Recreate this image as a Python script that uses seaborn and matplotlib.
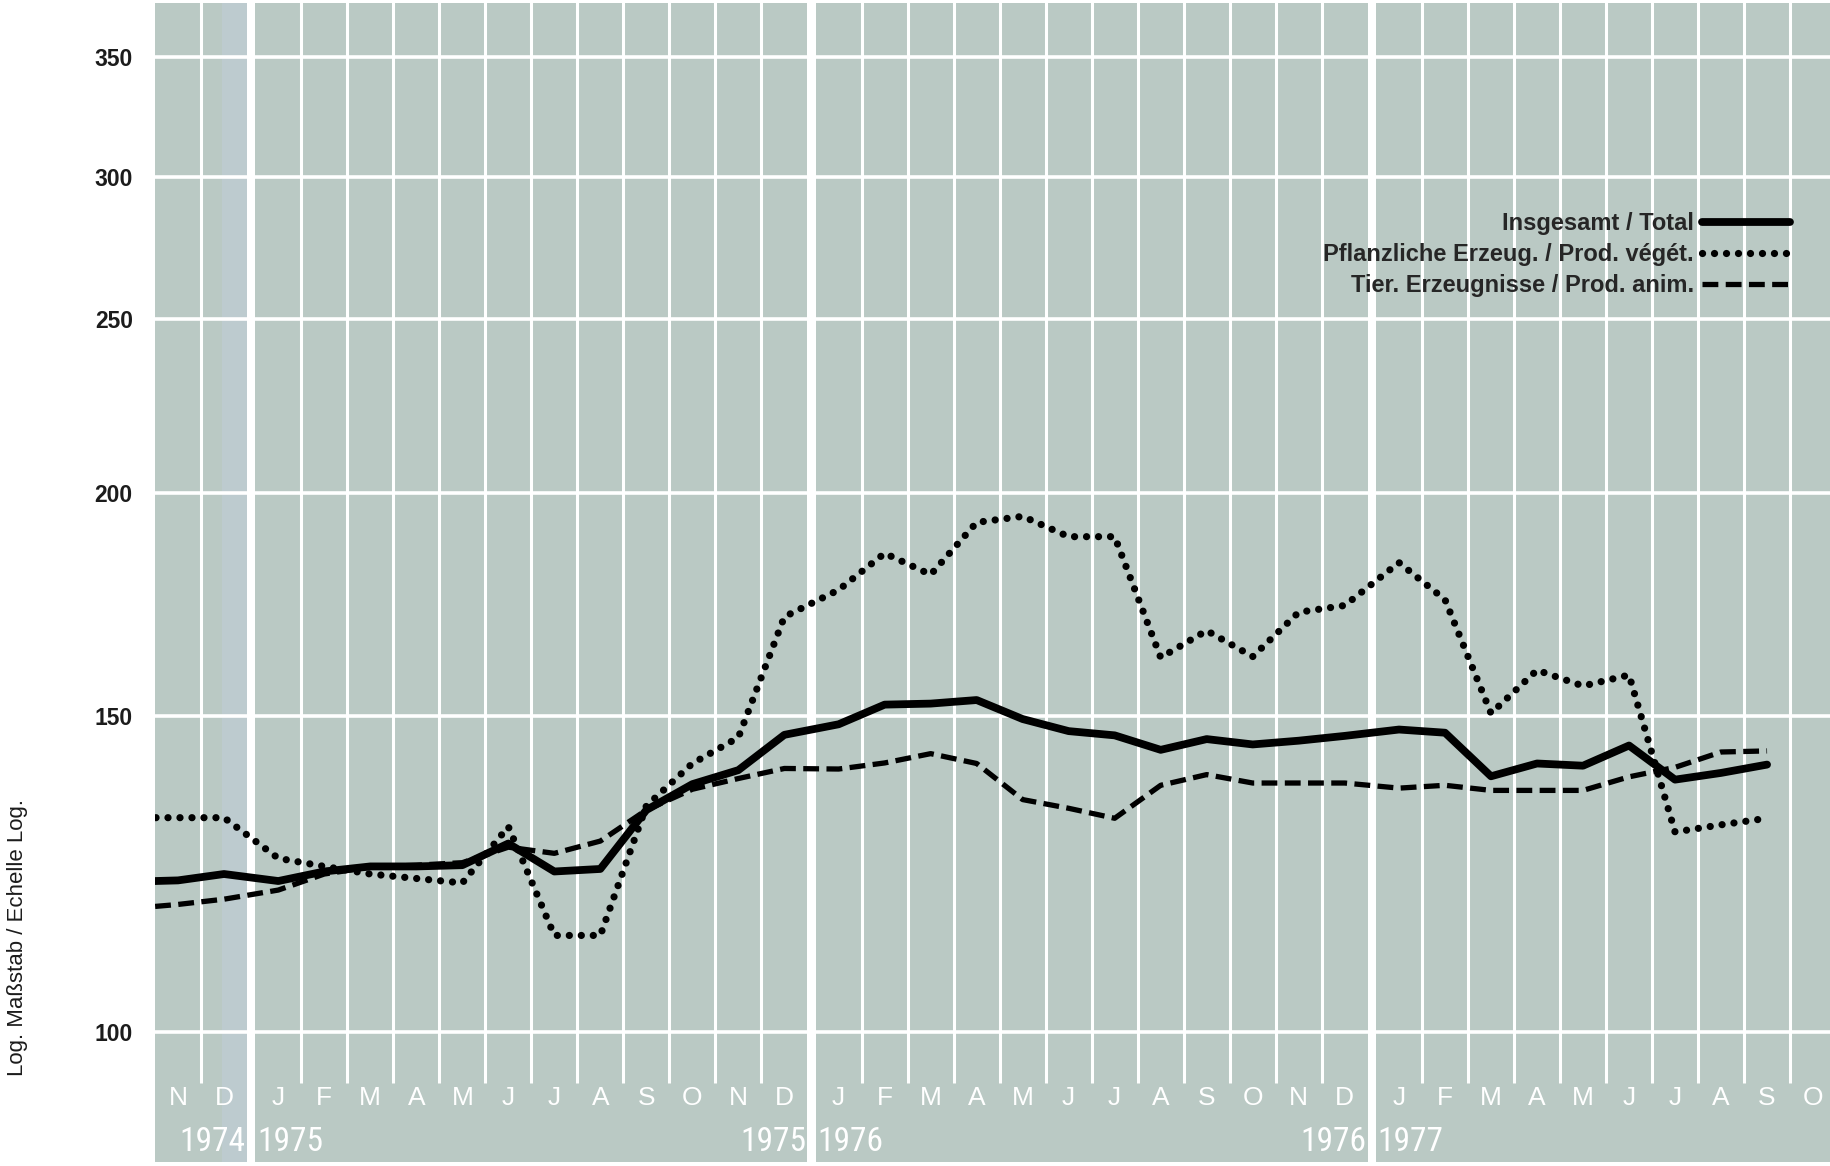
import numpy as np
import pandas as pd
import matplotlib
matplotlib.use("Agg")
import matplotlib.pyplot as plt
import matplotlib.transforms as mtransforms
from matplotlib.ticker import NullLocator
import seaborn as sns

# ----------------------------------------------------------------------
# Data: monthly index values, Oct 1974 .. Sep 1977 (log scale)
# ----------------------------------------------------------------------
data_year = [1974] * 3 + [1975] * 12 + [1976] * 12 + [1977] * 9
data_month = [10, 11, 12] + list(range(1, 13)) * 2 + list(range(1, 10))

total = [121.3, 121.5, 122.5,
         121.4, 122.9, 123.7, 123.7, 123.9, 127.4, 122.9, 123.3, 133.0, 137.5, 140.0, 146.5,
         148.5, 152.3, 152.5, 153.2, 149.5, 147.2, 146.4, 143.7, 145.7, 144.7, 145.4, 146.3,
         147.5, 146.9, 138.9, 141.2, 140.8, 144.5, 138.3, 139.5, 141.0]
plant = [131.7, 131.7, 131.7,
         125.0, 123.7, 122.5, 121.8, 121.1, 130.2, 113.2, 113.2, 133.7, 141.2, 146.0, 170.5,
         176.5, 185.0, 180.0, 192.5, 194.0, 189.0, 189.0, 161.8, 167.5, 162.0, 171.5, 173.0,
         182.8, 174.3, 150.6, 159.2, 156.0, 158.2, 129.3, 130.5, 131.6]
animal = [117.2, 117.8, 118.6,
          120.0, 122.5, 123.6, 123.9, 124.3, 126.8, 125.8, 127.8, 133.0, 136.6, 138.5, 140.3,
          140.2, 141.3, 143.0, 141.2, 134.8, 133.3, 131.6, 137.3, 139.2, 137.7, 137.7, 137.7,
          136.8, 137.3, 136.4, 136.4, 136.4, 138.8, 140.5, 143.3, 143.5]

# axis columns Nov 1974 .. Oct 1977
axis_year = [1974] * 2 + [1975] * 12 + [1976] * 12 + [1977] * 10
axis_month = [11, 12] + list(range(1, 13)) * 2 + list(range(1, 11))
month_letters = ["J", "F", "M", "A", "M", "J", "J", "A", "S", "O", "N", "D"]

yticks = [100, 150, 200, 250, 300, 350]

label_total = "Insgesamt / Total"
label_plant = "Pflanzliche Erzeug. / Prod. végét."
label_animal = "Tier. Erzeugnisse / Prod. anim."
ylabel = "Log. Maßstab / Echelle Log."

GAP = 0.18  # white band between years, in months


def xpos(year, month):
    i = (year - 1974) * 12 + month - 11
    return i + GAP * (year - 1974)


df = pd.DataFrame({"year": data_year, "month": data_month,
                   "total": total, "plant": plant, "animal": animal})
df["x"] = [xpos(y, m) for y, m in zip(df["year"], df["month"])]

cols = pd.DataFrame({"year": axis_year, "month": axis_month})
cols["x"] = [xpos(y, m) for y, m in zip(cols["year"], cols["month"])]

# ----------------------------------------------------------------------
# Figure
# ----------------------------------------------------------------------
sns.set_style("white")
plt.rcParams["font.family"] = ["Liberation Sans", "DejaVu Sans"]

BG = "#bac9c4"
fig = plt.figure(figsize=(18.31, 11.66), dpi=100)
ax = fig.add_axes([155 / 1831, 4 / 1166, 1676 / 1831, 1159 / 1166])
ax.set_facecolor(BG)
ax.set_yscale("log")
ax.set_ylim(84.6, 375.3)
ax.set_xlim(cols["x"].iloc[0] - 0.5, cols["x"].iloc[-1] + 0.39)
for s in ax.spines.values():
    s.set_visible(False)

# faint bluish print tint in the December 1974 column
xd = cols["x"].iloc[1]
ax.axvspan(xd - 0.05, xd + 0.5, color="#bdcbcf", lw=0, zorder=0.5)

# grid: month separators, year bands, value lines
inner, bands = [], []
for (x0, y0), (x1, y1) in zip(cols[["x", "year"]].values[:-1], cols[["x", "year"]].values[1:]):
    if y0 == y1:
        inner.append(x0 + 0.5)
    else:
        bands.append((x0 + 0.5, x1 - 0.5))
inner.append(cols["x"].iloc[-1] + 0.5)
ax.vlines(inner, 93.6, 400, color="white", lw=2.2, zorder=1)
for a, b in bands:
    ax.axvspan(a, b, color="white", lw=0, zorder=1)
for v in yticks:
    ax.axhline(v, color="white", lw=2.6, zorder=1)

# series
sns.lineplot(data=df, x="x", y="animal", ax=ax, color="black", lw=3.8,
             linestyle=(0, (3.0, 1.4)), label=label_animal, zorder=3)
sns.lineplot(data=df, x="x", y="plant", ax=ax, color="black", lw=5.2,
             linestyle=(0, (0.01, 1.65)), dash_capstyle="round",
             label=label_plant, zorder=4)
sns.lineplot(data=df, x="x", y="total", ax=ax, color="black", lw=5.6,
             solid_joinstyle="round", label=label_total, zorder=5)

# y axis
ax.set_yticks(yticks)
ax.set_yticklabels([str(v) for v in yticks])
ax.yaxis.set_minor_locator(NullLocator())
ax.tick_params(axis="y", length=0, pad=16, labelsize=16.5, labelcolor="#1c1c1c")
for t in ax.get_yticklabels():
    t.set_fontweight("bold")
ax.set_xticks([])
ax.set_xlabel("")
ax.set_ylabel("")
fig.text(18 / 1831, (1166 - 938) / 1166, ylabel, rotation=90,
         ha="center", va="center", fontsize=16, color="#1c1c1c")

# month letters and years
trans = mtransforms.blended_transform_factory(ax.transData, ax.transAxes)
for x, m in zip(cols["x"], cols["month"]):
    ax.text(x, 0.0552, month_letters[m - 1], transform=trans, ha="center",
            va="center", color="white", fontsize=19)
narrow = ["Roboto Condensed", "Liberation Sans Narrow", "Liberation Sans", "DejaVu Sans"]
for y in sorted(set(axis_year)):
    sub = cols[cols["year"] == y]
    if sub["month"].iloc[-1] == 12:
        ax.text(sub["x"].iloc[-1] + 0.47, 0.0175, str(y), transform=trans,
                ha="right", va="center", color="white", fontsize=24,
                family=narrow)
    if sub["month"].iloc[0] == 1:
        ax.text(sub["x"].iloc[0] - 0.46, 0.0175, str(y), transform=trans,
                ha="left", va="center", color="white", fontsize=24,
                family=narrow)

# legend (text left, sample right)
h, l = ax.get_legend_handles_labels()
order = [l.index(label_total), l.index(label_plant), l.index(label_animal)]
ax.legend([h[i] for i in order], [l[i] for i in order], loc="upper right",
          bbox_to_anchor=(0.9755, 0.8193), frameon=False, markerfirst=False,
          handlelength=3.73, handletextpad=0.34, labelspacing=0.33,
          borderpad=0, borderaxespad=0,
          prop={"weight": "bold", "size": 17})

fig.savefig("out.png", dpi=100, facecolor="white")
